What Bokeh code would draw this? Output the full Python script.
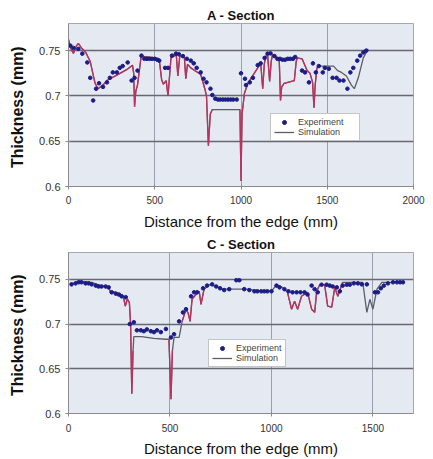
from bokeh.plotting import figure
from bokeh.layouts import column
from bokeh.models import FixedTicker, CustomJSTickFormatter, Range1d, Legend, LegendItem
from bokeh.embed import file_html
from bokeh.resources import INLINE

# ---------------- data: A - Section ----------------
A_SIM_X = [0, 15, 29, 45, 57, 75, 100, 126, 154, 171, 200, 222, 280, 337, 371, 378, 383, 390, 400, 420,
           430, 450, 500, 526, 540, 550, 566, 577, 594, 610, 625, 634, 645, 660, 672, 680, 690, 709, 740, 766,
           790, 800, 811, 822, 834, 900, 994, 1000, 1006, 1020, 1040, 1097, 1114, 1126, 1135, 1143, 1155, 1166, 1175, 1183,
           1211, 1222, 1229, 1236, 1250, 1309, 1320, 1326, 1354, 1383, 1400, 1415, 1423, 1430, 1440, 1457, 1537, 1560, 1583, 1611,
           1640, 1657, 1680, 1709, 1737]
A_SIM_Y = [0.762, 0.752, 0.747, 0.755, 0.758, 0.753, 0.748, 0.738, 0.714, 0.708, 0.712, 0.717, 0.723, 0.729, 0.734, 0.725, 0.688, 0.705, 0.712, 0.742,
           0.744, 0.743, 0.742, 0.740, 0.718, 0.713, 0.717, 0.700, 0.742, 0.744, 0.745, 0.722, 0.744, 0.744, 0.742, 0.719, 0.735, 0.731, 0.727, 0.724,
           0.708, 0.700, 0.645, 0.680, 0.685, 0.685, 0.685, 0.606, 0.680, 0.703, 0.714, 0.731, 0.737, 0.708, 0.735, 0.744, 0.744, 0.716, 0.738, 0.746,
           0.742, 0.738, 0.695, 0.710, 0.714, 0.717, 0.738, 0.742, 0.741, 0.728, 0.725, 0.715, 0.687, 0.712, 0.731, 0.733, 0.733, 0.728, 0.726, 0.722,
           0.712, 0.708, 0.720, 0.742, 0.752]

A_EXP_X = [11, 29, 57, 80, 109, 126, 143, 160, 177, 200, 223, 240, 257, 280, 297, 314, 343, 366, 383, 400,
           423, 440, 455, 470, 485, 500, 515, 526, 560, 577, 600, 623, 640, 663, 686, 709, 726, 743, 766, 783,
           800, 823, 834, 851, 866, 880, 895, 910, 925, 940, 955, 975, 1000, 1023, 1029, 1051, 1069, 1097, 1114, 1137,
           1154, 1171, 1194, 1211, 1226, 1241, 1256, 1271, 1286, 1301, 1314, 1354, 1371, 1394, 1417, 1434, 1451, 1474, 1486, 1509,
           1531, 1554, 1571, 1594, 1617, 1634, 1651, 1674, 1691, 1709, 1726]
A_EXP_Y = [0.7555, 0.753, 0.752, 0.7467, 0.737, 0.720, 0.695, 0.708, 0.714, 0.710, 0.715, 0.720, 0.726, 0.726, 0.731, 0.733, 0.737, 0.717, 0.720, 0.728,
           0.7445, 0.741, 0.741, 0.741, 0.741, 0.741, 0.740, 0.739, 0.731, 0.731, 0.7445, 0.7467, 0.746, 0.744, 0.741, 0.739, 0.736, 0.731, 0.726, 0.719,
           0.715, 0.708, 0.701, 0.697, 0.696, 0.696, 0.696, 0.696, 0.696, 0.696, 0.696, 0.696, 0.725, 0.719, 0.712, 0.715, 0.720, 0.734, 0.736, 0.742,
           0.7467, 0.747, 0.744, 0.741, 0.741, 0.740, 0.740, 0.741, 0.741, 0.741, 0.743, 0.728, 0.726, 0.715, 0.736, 0.726, 0.733, 0.726, 0.731, 0.730,
           0.720, 0.720, 0.717, 0.717, 0.708, 0.726, 0.731, 0.739, 0.7445, 0.748, 0.750]

# ---------------- data: C - Section ----------------
C_SIM_X = [10, 50, 114, 160, 198, 210, 223, 260, 270, 280, 290, 300, 306, 312, 318, 322, 360, 420, 480, 495,
           505, 512, 520, 545, 560, 579, 590, 599, 609, 628, 644, 653, 668, 693, 728, 757, 807, 876, 950, 1000,
           1025, 1054, 1079, 1099, 1114, 1129, 1148, 1178, 1198, 1213, 1223, 1238, 1262, 1277, 1297, 1312, 1327, 1351, 1450, 1470,
           1485, 1500, 1520, 1544, 1584, 1648]
C_SIM_Y = [0.744, 0.748, 0.7467, 0.743, 0.741, 0.734, 0.736, 0.733, 0.731, 0.720, 0.728, 0.724, 0.700, 0.622, 0.670, 0.686, 0.686, 0.684, 0.683, 0.683,
           0.616, 0.670, 0.685, 0.685, 0.703, 0.7165, 0.712, 0.703, 0.728, 0.733, 0.7366, 0.722, 0.739, 0.744, 0.742, 0.739, 0.739, 0.739, 0.737, 0.7366,
           0.744, 0.741, 0.7355, 0.7166, 0.7255, 0.7166, 0.731, 0.7355, 0.7166, 0.713, 0.7366, 0.744, 0.744, 0.720, 0.719, 0.741, 0.731, 0.7467, 0.7467, 0.713,
           0.7277, 0.7166, 0.739, 0.7467, 0.7467, 0.7467]

C_EXP_X = [15, 35, 50, 64, 84, 99, 114, 134, 148, 163, 183, 198, 213, 233, 248, 262, 282, 302, 322, 337,
           356, 371, 386, 406, 421, 436, 455, 480, 505, 520, 545, 564, 579, 604, 619, 634, 663, 683, 708, 728,
           747, 767, 792, 827, 842, 866, 891, 916, 931, 950, 965, 980, 1000, 1025, 1040, 1064, 1084, 1104, 1124, 1143,
           1163, 1178, 1198, 1213, 1228, 1247, 1272, 1287, 1302, 1322, 1337, 1351, 1371, 1386, 1406, 1426, 1445, 1470, 1510, 1525,
           1539, 1554, 1574, 1599, 1619, 1634, 1648]
C_EXP_Y = [0.7444, 0.7455, 0.7467, 0.7467, 0.7455, 0.7455, 0.7444, 0.743, 0.742, 0.742, 0.742, 0.741, 0.7355, 0.734, 0.733, 0.731, 0.730, 0.700, 0.702, 0.693,
           0.693, 0.692, 0.694, 0.692, 0.691, 0.693, 0.691, 0.6945, 0.685, 0.6886, 0.703, 0.713, 0.7166, 0.731, 0.7355, 0.7355, 0.740, 0.743, 0.7444, 0.742,
           0.740, 0.738, 0.739, 0.749, 0.749, 0.739, 0.738, 0.7366, 0.7366, 0.7366, 0.7366, 0.7366, 0.7366, 0.743, 0.741, 0.739, 0.7366, 0.7355, 0.7355, 0.7355,
           0.7355, 0.733, 0.743, 0.739, 0.7355, 0.744, 0.744, 0.743, 0.742, 0.741, 0.7366, 0.743, 0.744, 0.744, 0.7455, 0.7455, 0.7444, 0.7444, 0.7355, 0.7355,
           0.740, 0.743, 0.7455, 0.7467, 0.7467, 0.7467, 0.7467]

Y_TICKS = [0.6, 0.65, 0.7, 0.75]
A_X_TICKS = [0, 500, 1000, 1500, 2000]
C_X_TICKS = [0, 500, 1000, 1500]

# style: x-intervals where the simulation trace is drawn in red
A_RED = [(0, 830), (995, 1440)]
C_RED = [(180, 318), (500, 512), (555, 680), (1070, 1340)]

FONT = "Liberation Sans"
RED = "#c0305e"
GRAY = "#5c5c6a"
NAVY = "#1c1c86"


def red_runs(xs, ys, ranges):
    rx, ry = [], []
    cx = cy = None
    for i in range(len(xs) - 1):
        m = (xs[i] + xs[i + 1]) / 2
        if any(a <= m <= b for a, b in ranges):
            if cx is None:
                cx, cy = [xs[i]], [ys[i]]
            cx.append(xs[i + 1])
            cy.append(ys[i + 1])
        elif cx is not None:
            rx.append(cx); ry.append(cy)
            cx = cy = None
    if cx is not None:
        rx.append(cx); ry.append(cy)
    return rx, ry


def panel(title, sx, sy, ex, ey, x_end, xticks, red, height, btop, bbot, bright, leg_loc,
          leg_label_w, lab_standoff, title_standoff):
    p = figure(width=425, height=height, output_backend="svg", toolbar_location=None,
               x_range=Range1d(0, x_end), y_range=Range1d(0.6, 0.78),
               min_border_left=68, min_border_right=bright, min_border_top=btop,
               min_border_bottom=bbot, title=title)
    p.title.text_font = FONT
    p.title.text_font_size = "13px"
    p.title.text_font_style = "bold"
    p.title.align = "center"
    p.title.standoff = 2
    p.title.text_color = "#111111"
    p.background_fill_color = "#e5e9f1"
    p.border_fill_color = "white"
    p.outline_line_color = "#a8a8a8"

    p.xaxis.ticker = FixedTicker(ticks=xticks)
    p.yaxis.ticker = FixedTicker(ticks=Y_TICKS)
    p.yaxis.formatter = CustomJSTickFormatter(code="return (Math.round(tick*100)/100).toString();")
    for ax in (p.xaxis, p.yaxis):
        ax.axis_line_color = "#8a8a8a"
        ax.major_tick_line_color = "#8a8a8a"
        ax.minor_tick_line_color = None
        ax.major_tick_in = 2
        ax.major_tick_out = 3
        ax.major_label_text_font = FONT
        ax.major_label_text_color = "#333333"
        ax.axis_label_text_font = FONT
        ax.axis_label_text_color = "#111111"
    p.xaxis.major_label_text_font_size = "10px"
    p.yaxis.major_label_text_font_size = "11px"
    p.xaxis.major_label_standoff = lab_standoff
    p.yaxis.major_label_standoff = 5
    p.xaxis.axis_label = "Distance from the edge (mm)"
    p.xaxis.axis_label_text_font_size = "15px"
    p.xaxis.axis_label_text_font_style = "normal"
    p.xaxis.axis_label_standoff = title_standoff
    p.yaxis.axis_label = "Thickness  (mm)"
    p.yaxis.axis_label_text_font_size = "16px"
    p.yaxis.axis_label_text_font_style = "bold"
    p.yaxis.axis_label_standoff = 10

    p.xgrid.grid_line_color = "#98a0b0"
    p.xgrid.grid_line_width = 1
    p.ygrid.grid_line_color = "#686872"
    p.ygrid.grid_line_width = 1.5

    gl = p.line(sx, sy, line_color=GRAY, line_width=1.3)
    rx, ry = red_runs(sx, sy, red)
    p.multi_line(rx, ry, line_color=RED, line_width=1.3)
    sc = p.scatter(ex, ey, size=3.6, marker="circle", fill_color=NAVY, line_color=NAVY)

    leg = Legend(items=[LegendItem(label="Experiment", renderers=[sc]),
                        LegendItem(label="Simulation", renderers=[gl])],
                 location=leg_loc)
    leg.label_text_font = FONT
    leg.label_text_font_size = "9px"
    leg.label_text_color = "#444444"
    leg.glyph_width = 20
    leg.glyph_height = 10
    leg.label_height = 10
    leg.label_width = leg_label_w
    leg.label_standoff = 4
    leg.spacing = 0
    leg.padding = 3
    leg.margin = 0
    leg.border_line_color = "#8a8a8a"
    leg.background_fill_color = "white"
    leg.background_fill_alpha = 1
    p.add_layout(leg)
    return p


p1 = panel("A - Section", A_SIM_X, A_SIM_Y, A_EXP_X, A_EXP_Y, 2000, A_X_TICKS, A_RED,
           height=232, btop=23, bbot=45, bright=7, leg_loc=(202, 45), leg_label_w=58,
           lab_standoff=6, title_standoff=6)
p2 = panel("C - Section", C_SIM_X, C_SIM_Y, C_EXP_X, C_EXP_Y, 1700, C_X_TICKS, C_RED,
           height=227, btop=20, bbot=45, bright=12, leg_loc=(140, 46), leg_label_w=42,
           lab_standoff=7, title_standoff=5)

layout = column(p1, p2, spacing=0)
open("out.html", "w").write(file_html(layout, INLINE))
